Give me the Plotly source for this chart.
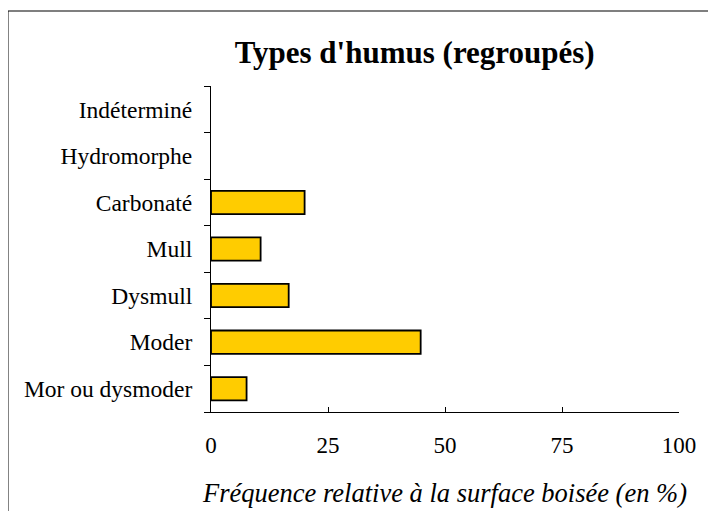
import plotly.graph_objects as go

categories = ["Mor ou dysmoder", "Moder", "Dysmull", "Mull", "Carbonaté", "Hydromorphe", "Indéterminé"]
frequence = [7.6, 44.8, 16.6, 10.6, 20.0, 0, 0]
x_ticks = [0, 25, 50, 75, 100]

serif = "Liberation Serif, Times New Roman, serif"

fig = go.Figure()
fig.add_trace(go.Bar(
    y=categories, x=frequence, orientation="h",
    marker=dict(color="#FFCC00",
                # pas de contour pour les barres nulles
                line=dict(color="black", width=[1.8 if v > 0 else 0 for v in frequence])),
    width=0.5,
))

# Cadre autour du graphique
fig.add_shape(type="rect", xref="paper", yref="paper",
              x0=-0.434, x1=1.2, y0=-0.5, y1=1.23,
              line=dict(color="black", width=1.2), layer="below")

fig.update_xaxes(
    range=[0, 100], tickvals=x_ticks, showgrid=False, zeroline=False,
    showline=True, linecolor="black", linewidth=1,
    ticks="inside", ticklen=5, tickcolor="black", ticklabelstandoff=12,
    tickfont=dict(family=serif, size=23, color="black"),
    title=dict(text="<i>Fréquence relative à la surface boisée (en %)</i>",
               font=dict(family=serif, size=26.5, color="black"), standoff=26),
)
fig.update_yaxes(
    showgrid=False, showline=True, linecolor="black", linewidth=1,
    ticks="outside", ticklen=6, tickcolor="black", tickson="boundaries",
    ticklabelstandoff=13,
    tickfont=dict(family=serif, size=23.5, color="black"),
)

fig.update_layout(
    width=716, height=511,
    paper_bgcolor="white", plot_bgcolor="white",
    margin=dict(l=203, r=45, t=78, b=107),
    showlegend=False,
    title=dict(text="<b>Types d'humus (regroupés)</b>", x=0.568, xanchor="center",
               y=0.914, yanchor="middle",
               font=dict(family=serif, size=31, color="black")),
)

fig.write_html("out.html")
